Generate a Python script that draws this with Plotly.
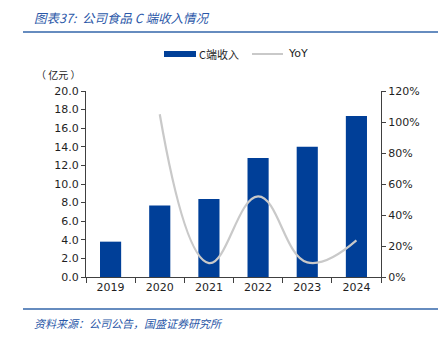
import plotly.graph_objects as go

years = ["2019", "2020", "2021", "2022", "2023", "2024"]
revenue = [3.8, 7.7, 8.4, 12.8, 14.0, 17.3]
yoy = [None, 1.05, 0.09, 0.52, 0.094, 0.236]
left_ticks = [0, 2, 4, 6, 8, 10, 12, 14, 16, 18, 20]
right_ticks = [0, 0.2, 0.4, 0.6, 0.8, 1.0, 1.2]

W, H = 443, 337
L, R, T, B = 86, 62, 91, 60
BLUE = "#003f98"
GRAY = "#c9c9c9"
TXT = "#1f1f1f"
FONT = "DejaVu Sans, Verdana, sans-serif"
CJK = "Noto Sans CJK SC"

fig = go.Figure()
fig.add_trace(go.Bar(x=years, y=revenue, marker=dict(color=BLUE, line=dict(width=0)),
                     width=0.43, name="C端收入", showlegend=False))
fig.add_trace(go.Scatter(x=years, y=yoy, yaxis="y2", mode="lines",
                         line=dict(color=GRAY, width=2.2, shape="spline", smoothing=1.2),
                         name="YoY", showlegend=False, connectgaps=False))

PW = W - L - R
PH = H - T - B

def fx(x):
    return (x - L) / PW

def fy(y):
    return (H - B - y) / PH

shapes = [
    dict(type="line", xref="paper", yref="paper", x0=fx(23), x1=fx(438), y0=fy(32), y1=fy(32),
         line=dict(color="#3366aa", width=1.5)),
    dict(type="line", xref="paper", yref="paper", x0=fx(23), x1=fx(438), y0=fy(309), y1=fy(309),
         line=dict(color="#3366aa", width=1.5)),
    dict(type="rect", xref="paper", yref="paper", x0=fx(164), x1=fx(196), y0=fy(51), y1=fy(57),
         fillcolor=BLUE, line=dict(width=0)),
    dict(type="line", xref="paper", yref="paper", x0=fx(252), x1=fx(283), y0=fy(54), y1=fy(54),
         line=dict(color=GRAY, width=2)),
]

def ann(text, x, y, size, color=TXT, family=FONT, xanchor="left", italic=False):
    if italic:
        text = "<i>" + text + "</i>"
    return dict(text=text, xref="paper", yref="paper", x=fx(x), y=fy(y),
                xanchor=xanchor, yanchor="middle", showarrow=False,
                font=dict(size=size, color=color, family=family))

annotations = [
    ann("图表37:  公司食品 C 端收入情况", 32, 18, 12.5, color="#2a57a8", family=CJK, italic=True),
    ann("C端收入", 197, 54, 11, family=CJK),
    ann("YoY", 286, 54, 11),
    ann("（ 亿元 ）", 34, 74, 10, family=CJK),
    ann("资料来源：公司公告，国盛证券研究所", 32, 323, 11, color="#2a57a8", family=CJK, italic=True),
]

fig.update_layout(
    width=W, height=H,
    margin=dict(l=L, r=R, t=T, b=B),
    paper_bgcolor="white", plot_bgcolor="white",
    bargap=0.57,
    font=dict(family=FONT, size=11, color=TXT),
    xaxis=dict(type="category", showline=True, linecolor="#404040", linewidth=1,
               ticks="outside", ticklen=5, tickcolor="#404040", tickson="boundaries",
               showgrid=False, tickfont=dict(size=11), range=[-0.5, 5.5]),
    yaxis=dict(range=[0, 20], tickvals=left_ticks, ticktext=[f"{v:.1f}" for v in left_ticks],
               showline=True, linecolor="#404040", linewidth=1, ticks="outside", ticklen=4,
               tickcolor="#404040", showgrid=False, zeroline=False, tickfont=dict(size=11)),
    yaxis2=dict(range=[0, 1.2], tickvals=right_ticks, ticktext=[f"{int(round(v*100))}%" for v in right_ticks],
                overlaying="y", side="right", showline=True, linecolor="#404040", linewidth=1,
                ticks="outside", ticklen=4, tickcolor="#404040", showgrid=False, zeroline=False,
                tickfont=dict(size=11)),
    shapes=shapes,
    annotations=annotations,
    showlegend=False,
)

fig.write_html("out.html")
